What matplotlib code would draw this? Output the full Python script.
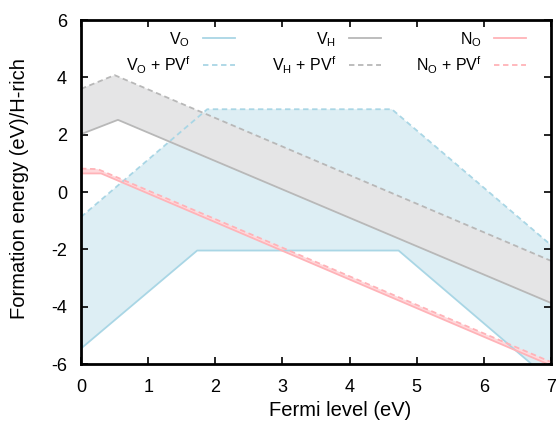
import matplotlib
matplotlib.use("Agg")
import matplotlib.pyplot as plt
from matplotlib.legend import Legend
import numpy as np

plt.rcParams['font.family'] = ['Liberation Sans', 'DejaVu Sans']
plt.rcParams['axes.unicode_minus'] = False

# breakpoints of each formation-energy curve (Fermi level, energy)
vo_x = [0.0, 1.73, 4.73, 7.0]
vo_y = [-5.46, -2.04, -2.04, -6.58]
vo_pv_x = [0.0, 1.88, 4.63, 7.0]
vo_pv_y = [-0.87, 2.89, 2.89, -1.85]

vh_x = [0.0, 0.55, 7.0]
vh_y = [2.02, 2.52, -3.87]
vh_pv_x = [0.0, 0.50, 7.0]
vh_pv_y = [3.60, 4.08, -2.40]

no_x = [0.0, 0.30, 7.0]
no_y = [0.65, 0.65, -6.05]
no_pv_x = [0.0, 0.25, 7.0]
no_pv_y = [0.82, 0.80, -5.93]

labels = [r"V$_\mathregular{O}$", r"V$_\mathregular{O}$ + PV$^\mathregular{f}$",
          r"V$_\mathregular{H}$", r"V$_\mathregular{H}$ + PV$^\mathregular{f}$",
          r"N$_\mathregular{O}$", r"N$_\mathregular{O}$ + PV$^\mathregular{f}$"]

blue = "#a9d6e5"
gray = "#b8b8b8"
pink = "#ffb3b8"

fig = plt.figure(figsize=(5.56, 4.28), dpi=100)
ax = fig.add_axes([0.1457, 0.1495, 0.8453, 0.8035])

def band(x1, y1, x2, y2, color):
    ax.fill(np.r_[x1, x2[::-1]], np.r_[y1, y2[::-1]], color=color, lw=0, zorder=1)

band(vo_x, vo_y, vo_pv_x, vo_pv_y, "#ddeef4")
band(vh_x, vh_y, vh_pv_x, vh_pv_y, "#e5e5e6")
band(no_x, no_y, no_pv_x, no_pv_y, "#ffd9dc")

dash = (0, (3, 2))
h = []
h += ax.plot(vo_x, vo_y, color=blue, lw=1.3, zorder=3)
h += ax.plot(vo_pv_x, vo_pv_y, color=blue, lw=1.3, ls=dash, zorder=3)
h += ax.plot(vh_x, vh_y, color=gray, lw=1.3, zorder=3)
h += ax.plot(vh_pv_x, vh_pv_y, color=gray, lw=1.3, ls=dash, zorder=3)
h += ax.plot(no_x, no_y, color=pink, lw=1.3, zorder=3)
h += ax.plot(no_pv_x, no_pv_y, color=pink, lw=1.3, ls=dash, zorder=3)

ax.set_xlim(0, 7)
ax.set_ylim(-6, 6)
ax.set_xticks(range(0, 8))
ax.set_yticks(range(-6, 7, 2))
ax.tick_params(direction='in', top=True, right=True, length=5, width=1.2,
               labelsize=13)
ax.tick_params(axis='x', pad=11)
ax.tick_params(axis='y', pad=10)
for s in ax.spines.values():
    s.set_linewidth(2)
    s.set_zorder(5)

ax.set_xlabel("Fermi level (eV)", fontsize=14.5)
ax.xaxis.set_label_coords(0.551, -0.134)
ax.xaxis.label.set_va('center')
ax.set_ylabel("Formation energy (eV)/H-rich", fontsize=14.5)
ax.yaxis.set_label_coords(-0.13, 0.509)
ax.yaxis.label.set_va('center')

# three one-column legends, gnuplot style (text then sample)
col_ends = [0.328, 0.638, 0.947]
for i, xe in enumerate(col_ends):
    leg = Legend(ax, h[2 * i:2 * i + 2], labels[2 * i:2 * i + 2], loc='center right',
                 bbox_to_anchor=(xe, 0.905), frameon=False, markerfirst=False,
                 fontsize=11.5, handlelength=2.0, handletextpad=0.8,
                 labelspacing=0.35, borderpad=0, borderaxespad=0)
    ax.add_artist(leg)

fig.savefig("out.png", dpi=100)
